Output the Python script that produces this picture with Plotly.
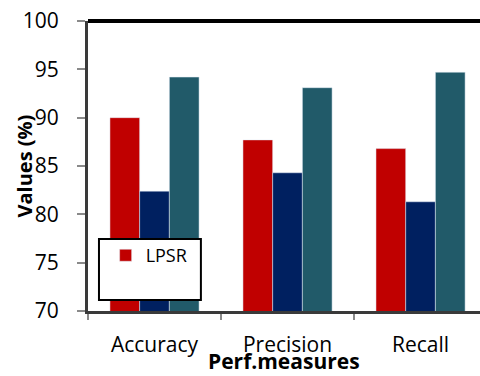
import plotly.graph_objects as go

categories = ["Accuracy", "Precision", "Recall"]
lpsr = [90.0, 87.7, 86.8]
series2 = [82.4, 84.3, 81.3]
series3 = [94.2, 93.1, 94.7]
y_ticks = [70, 75, 80, 85, 90, 95, 100]

FONT = "Open Sans"

fig = go.Figure()
fig.add_trace(go.Bar(x=categories, y=lpsr, name="LPSR", marker_color="#C00000", showlegend=True))
fig.add_trace(go.Bar(x=categories, y=series2, name="Series 2", marker_color="#002060", showlegend=False))
fig.add_trace(go.Bar(x=categories, y=series3, name="Series 3", marker_color="#215A69", showlegend=False))

fig.update_layout(
    width=480, height=376,
    margin=dict(l=88, r=0, t=21, b=65),
    paper_bgcolor="white", plot_bgcolor="white",
    barmode="group", bargap=0.33, bargroupgap=0,
    font=dict(family=FONT, size=21, color="black"),
    legend=dict(x=0.045, y=0.255, xanchor="left", yanchor="top",
                bgcolor="rgba(0,0,0,0)", borderwidth=0,
                font=dict(family=FONT, size=18, color="black")),
    shapes=[
        dict(type="rect", xref="paper", yref="paper", x0=0.028, x1=0.288, y0=0.038, y1=0.248,
             line=dict(color="black", width=2), fillcolor="white", layer="above"),
        dict(type="line", xref="paper", yref="paper", x0=0, x1=1, y0=1, y1=1,
             line=dict(color="black", width=4), layer="above"),
    ],
    annotations=[
        dict(text="<b>Values (%)</b>", xref="paper", yref="paper", x=-0.162, y=0.5,
             xanchor="center", yanchor="middle", textangle=-90, showarrow=False,
             font=dict(family=FONT, size=20, color="black")),
        dict(text="<b>Perf.measures</b>", xref="paper", yref="paper", x=0.5, y=-0.172,
             xanchor="center", yanchor="middle", showarrow=False,
             font=dict(family=FONT, size=21, color="black")),
    ],
)

fig.update_xaxes(
    range=[-0.5, 2.447], showline=True, linecolor="#3a3a3a", linewidth=3,
    ticks="outside", tickson="boundaries", ticklen=6, tickcolor="#8a8a8a", tickwidth=1.5,
    ticklabelstandoff=13, showgrid=False, zeroline=False,
)
fig.update_yaxes(
    range=[70, 100], tickvals=y_ticks, showline=True, linecolor="#3a3a3a", linewidth=3,
    ticks="outside", ticklen=8, tickcolor="#8a8a8a", tickwidth=1.5,
    ticklabelstandoff=14, showgrid=False, zeroline=False,
)

fig.write_html("out.html")
